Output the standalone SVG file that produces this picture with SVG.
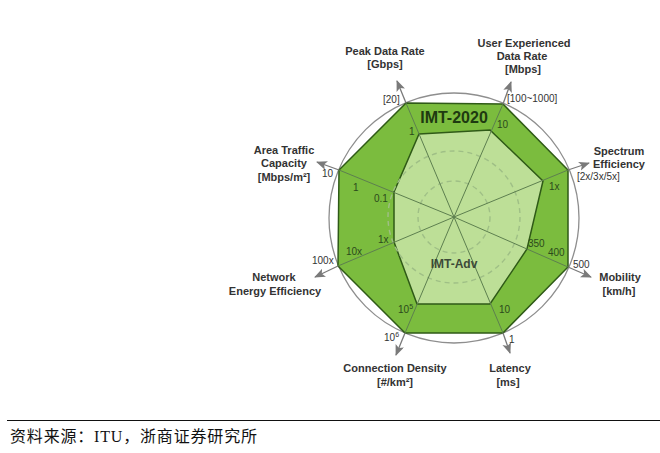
<svg xmlns="http://www.w3.org/2000/svg" width="660" height="453" viewBox="0 0 660 453">
<style>
.lbl{font-family:"Liberation Sans",Arial,sans-serif;font-size:11px;font-weight:bold;fill:#333;text-anchor:middle}
.num{font-family:"Liberation Sans",Arial,sans-serif;font-size:10px;fill:#333}
.gnum{font-family:"Liberation Sans",Arial,sans-serif;font-size:10px;fill:#2b4a1c}
.ax-in{stroke:#5d7f4f;stroke-width:1;fill:none}
.ax-out{stroke:#7a7a7a;stroke-width:1.3;fill:none;marker-end:url(#arr)}
.dash{stroke:#9fbf86;stroke-width:1.4;stroke-dasharray:5 4;fill:none}
</style>
<defs>
<marker id="arr" markerUnits="userSpaceOnUse" markerWidth="12" markerHeight="10" refX="10" refY="4.5" orient="auto">
<path d="M0,0 L11,4.5 L0,9 L2.5,4.5 z" fill="#7a7a7a"/>
</marker>
</defs>
<rect width="660" height="453" fill="#ffffff"/>

<g id="radar">
<circle cx="454" cy="218" r="125" fill="none" stroke="#8e8e8e" stroke-width="1.3"/>
<polygon id="imt2020" points="406,103 503,104 568,170 568,267 503,333 405,333 338,266 339,170" fill="#7bbc3e" stroke="#2f5a17" stroke-width="1.5"/>
<polygon id="imtadv" points="419,134 490,130 543,181 527,249 490,304 417,304 394,242 394,192" fill="#bddf97" stroke="#2f5a17" stroke-width="1.5"/>
<circle class="dash" cx="454" cy="217" r="36"/>
<circle class="dash" cx="454" cy="217" r="66"/>
</g>

<g id="connectors">
<path class="ax-in" d="M454,217 L406,103 M454,217 L503,104 M454,217 L568,170 M454,217 L568,267 M454,217 L503,333 M454,217 L405,333 M454,217 L338,266 M454,217 L339,170"/>
<path class="ax-out" d="M406,103 L397,81"/>
<path class="ax-out" d="M503,104 L511,82"/>
<path class="ax-out" d="M568,170 L589,163"/>
<path class="ax-out" d="M568,267 L591,277"/>
<path class="ax-out" d="M503,333 L510,353"/>
<path class="ax-out" d="M405,333 L396,355"/>
<path class="ax-out" d="M338,266 L315,277"/>
<path class="ax-out" d="M339,170 L317,162"/>
</g>

<g id="titles">
<text x="454" y="123" font-family="Liberation Sans,Arial,sans-serif" font-size="16" font-weight="bold" fill="#1e3a10" text-anchor="middle">IMT-2020</text>
<text x="454" y="268" font-family="Liberation Sans,Arial,sans-serif" font-size="12" font-weight="bold" fill="#3c4a38" text-anchor="middle">IMT-Adv</text>
</g>

<g id="node-peak">
<text class="lbl" x="385" y="55">Peak Data Rate</text>
<text class="lbl" x="385" y="68">[Gbps]</text>
<text class="num" x="383" y="103">[20]</text>
<text class="gnum" x="409" y="135">1</text>
</g>

<g id="node-user">
<text class="lbl" x="524" y="47">User Experienced</text>
<text class="lbl" x="522" y="60">Data Rate</text>
<text class="lbl" x="523" y="73">[Mbps]</text>
<text class="num" x="507" y="102">[100~1000]</text>
<text class="gnum" x="497" y="128">10</text>
</g>

<g id="node-spectrum">
<text class="lbl" x="619" y="155">Spectrum</text>
<text class="lbl" x="619" y="168">Efficiency</text>
<text class="num" x="577" y="180">[2x/3x/5x]</text>
<text class="gnum" x="549" y="190">1x</text>
</g>

<g id="node-mobility">
<text class="lbl" x="620" y="281">Mobility</text>
<text class="lbl" x="619" y="295">[km/h]</text>
<text class="num" x="573" y="268">500</text>
<text class="gnum" x="548" y="256">400</text>
<text class="gnum" x="528" y="247">350</text>
</g>

<g id="node-latency">
<text class="lbl" x="510" y="372">Latency</text>
<text class="lbl" x="508" y="386">[ms]</text>
<text class="num" x="509" y="343">1</text>
<text class="gnum" x="499" y="313">10</text>
</g>

<g id="node-connection">
<text class="lbl" x="395" y="372">Connection Density</text>
<text class="lbl" x="395" y="386">[#/km²]</text>
<text class="num" x="384" y="341">10<tspan font-size="7" dy="-4">6</tspan></text>
<text class="gnum" x="398" y="313">10<tspan font-size="7" dy="-4">5</tspan></text>
</g>

<g id="node-energy">
<text class="lbl" x="274" y="281">Network</text>
<text class="lbl" x="275" y="295">Energy Efficiency</text>
<text class="num" x="312" y="264">100x</text>
<text class="gnum" x="346" y="255">10x</text>
<text class="gnum" x="378" y="243">1x</text>
</g>

<g id="node-area">
<text class="lbl" x="284" y="154">Area Traffic</text>
<text class="lbl" x="284" y="167">Capacity</text>
<text class="lbl" x="284" y="181">[Mbps/m²]</text>
<text class="num" x="322" y="177">10</text>
<text class="gnum" x="353" y="191">1</text>
<text class="gnum" x="374" y="202">0.1</text>
</g>

<g id="footer">
<line x1="7" y1="420.5" x2="660" y2="420.5" stroke="#111" stroke-width="1.2"/>
<text x="10" y="442" font-family="Liberation Serif,Noto Sans CJK SC,serif" font-size="16" fill="#111" textLength="247" lengthAdjust="spacing">资料来源：ITU，浙商证券研究所</text>
</g>
</svg>
